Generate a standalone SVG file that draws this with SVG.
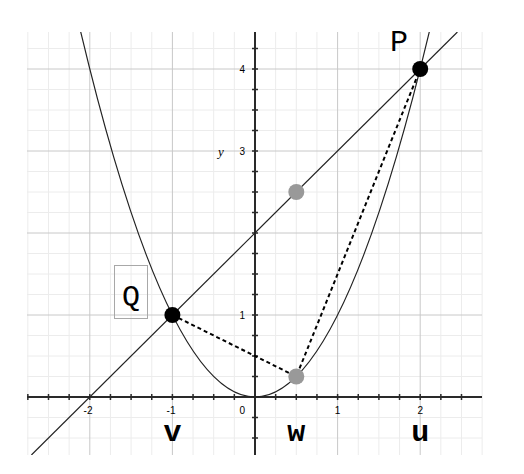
<svg xmlns="http://www.w3.org/2000/svg" width="524" height="474" viewBox="0 0 524 474">
<style>
.minor{stroke:#ececec;stroke-width:1;fill:none}
.major{stroke:#c8c8c8;stroke-width:1;fill:none}
.axis{stroke:#2a2a2a;stroke-width:2;fill:none}
.tick{stroke:#2a2a2a;stroke-width:1.5;fill:none}
.curve{stroke:#222;stroke-width:1.2;fill:none}
.dash{stroke:#000;stroke-width:2;stroke-dasharray:4,3;fill:none}
.num{font-family:"Liberation Sans",Arial,sans-serif;font-size:10px;fill:#000}
.lbl{font-family:"Liberation Mono","Courier New",monospace;fill:#000}
</style>
<defs>
<clipPath id="gridclip"><rect x="27" y="32" width="455" height="423"/></clipPath>
</defs>
<rect width="524" height="474" fill="#fff"/>
<g id="grid">
<path class="minor" d="M27.85 32V455M48.5 32V455M69.15 32V455M110.45 32V455M131.1 32V455M151.75 32V455M193.05 32V455M213.7 32V455M234.35 32V455M275.65 32V455M296.3 32V455M316.95 32V455M358.25 32V455M378.9 32V455M399.55 32V455M440.85 32V455M461.5 32V455M482.15 32V455M27 438H482M27 417.5H482M27 376.5H482M27 356H482M27 335.5H482M27 294.5H482M27 274H482M27 253.5H482M27 212.5H482M27 192H482M27 171.5H482M27 130.5H482M27 110H482M27 89.5H482M27 48.5H482"/>
<path class="major" d="M89.8 32V455M172.4 32V455M337.6 32V455M420.2 32V455M27 315H482M27 233H482M27 151H482M27 69H482"/>
</g>
<g id="axes">
<path class="axis" d="M27 397H482M255 32V455"/>
<path class="tick" d="M27.85 394V400M48.5 394V400M69.15 394V400M89.8 394V400M110.45 394V400M131.1 394V400M151.75 394V400M172.4 394V400M193.05 394V400M213.7 394V400M234.35 394V400M275.65 394V400M296.3 394V400M316.95 394V400M337.6 394V400M358.25 394V400M378.9 394V400M399.55 394V400M420.2 394V400M440.85 394V400M461.5 394V400M252 438H258M252 417.5H258M252 376.5H258M252 356H258M252 335.5H258M252 315H258M252 294.5H258M252 274H258M252 253.5H258M252 233H258M252 212.5H258M252 192H258M252 171.5H258M252 151H258M252 130.5H258M252 110H258M252 89.5H258M252 69H258M252 48.5H258"/>
<g class="num" text-anchor="middle">
<text x="88" y="414">-2</text>
<text x="171" y="414">-1</text>
<text x="337.6" y="414">1</text>
<text x="420.2" y="414">2</text>
</g>
<g class="num" text-anchor="end">
<text x="245" y="414">0</text>
<text x="245" y="318.5">1</text>
<text x="245" y="154.5">3</text>
<text x="245" y="72.5">4</text>
</g>
<text x="218" y="156" font-family="'Liberation Serif','Times New Roman',serif" font-style="italic" font-size="13">y</text>
</g>
<g id="connectors" clip-path="url(#gridclip)">
<path class="curve" d="M80.71 31.93Q255 762.07 429.29 31.93"/>
<path class="curve" d="M31.4 455L457.4 32"/>
<path class="dash" d="M172.4 315L296.3 376.5L420.2 69"/>
</g>
<g id="pointP"><circle cx="420.2" cy="69" r="8" fill="#000"/><text class="lbl" x="399" y="51" font-size="30" text-anchor="middle">P</text></g>
<g id="pointQ"><circle cx="172.4" cy="315" r="8" fill="#000"/><rect x="114.5" y="265.5" width="33" height="53" fill="none" stroke="#a8a8a8" stroke-width="1"/><text class="lbl" x="131" y="306" font-size="30" text-anchor="middle">Q</text></g>
<g id="pointLine"><circle cx="296.3" cy="192" r="8" fill="#999"/></g>
<g id="pointW"><circle cx="296.3" cy="376.5" r="8" fill="#999"/></g>
<g id="labelV"><text class="lbl" x="172.4" y="441" font-size="30" font-weight="bold" text-anchor="middle">v</text></g>
<g id="labelW"><text class="lbl" x="296.3" y="441" font-size="30" font-weight="bold" text-anchor="middle">w</text></g>
<g id="labelU"><text class="lbl" x="420.2" y="441" font-size="30" font-weight="bold" text-anchor="middle">u</text></g>
</svg>
